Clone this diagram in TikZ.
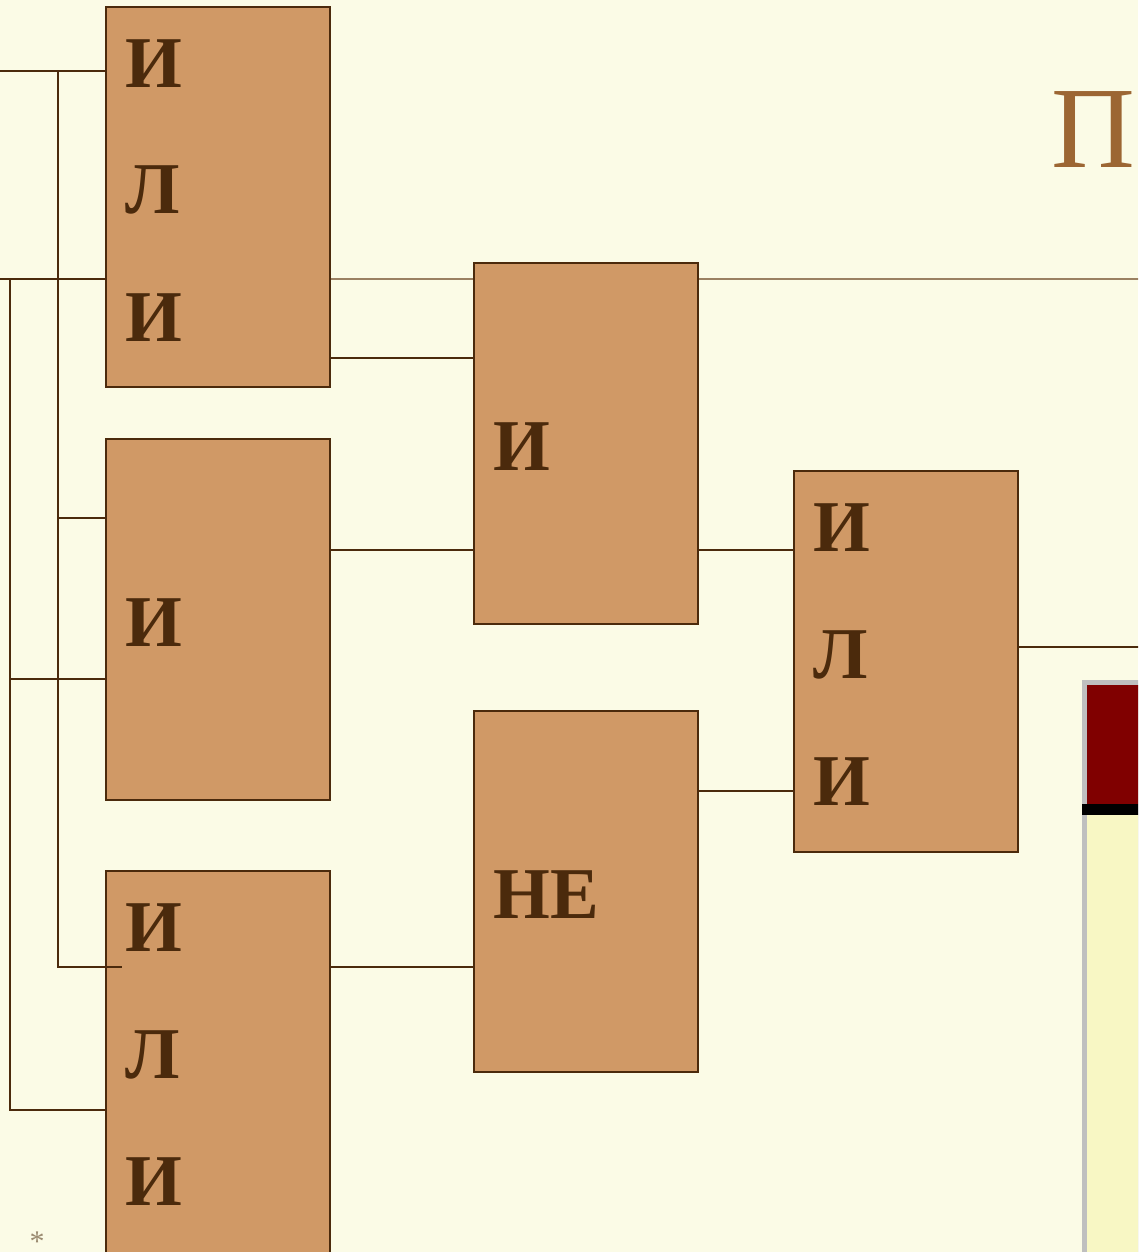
\documentclass[tikz,border=0pt]{standalone}
\usepackage{fontspec}
\setmainfont{Liberation Serif}
\definecolor{bg}{HTML}{FBFBE6}
\definecolor{boxc}{HTML}{D09966}
\definecolor{brd}{HTML}{4B2A0C}
\definecolor{titc}{HTML}{9C6633}
\definecolor{thinc}{HTML}{9A8062}
\definecolor{panred}{HTML}{800000}
\definecolor{panyel}{HTML}{F8F7C4}
\definecolor{astc}{HTML}{9A8A70}
\tikzset{
  gate/.style={draw=brd, fill=boxc, line width=2.5pt, minimum width=224pt, inner sep=0pt, outer sep=0pt, anchor=north west},
  lbl/.style={anchor=base west, inner sep=0pt, text=brd, font=\fontsize{73}{73}\selectfont\bfseries},
  wire/.style={draw=brd, line width=2pt},
}
\begin{document}
\begin{tikzpicture}[x=1pt,y=-1pt]
\useasboundingbox (0,0) rectangle (1138,1252);
\clip (0,0) rectangle (1138,1252);
\fill[bg] (0,0) rectangle (1138,1252);
% title
\node[anchor=base west, inner sep=0pt, text=titc, font=\fontsize{116}{116}\selectfont] (title) at (1051,168) {П};
% right panel
\fill[gray!50] (1082,680) rectangle (1145,1260);
\fill[panred] (1087,685) rectangle (1145,804);
\fill[black] (1082,804) rectangle (1145,815);
\fill[panyel] (1087,815) rectangle (1145,1260);
% coordinates
\coordinate (in1) at (0,71);
\coordinate (in2) at (0,279);
\coordinate (out) at (1140,647);
% thin line (behind boxes)
\draw[thinc, line width=1.5pt] (330,279) -- (1140,279);
% boxes
\node[gate, minimum height=380pt] (B1) at (106,7) {};
\node[gate, minimum height=361pt] (B2) at (106,439) {};
\node[gate, minimum height=400pt] (B3) at (106,871) {};
\node[gate, minimum height=361pt] (B4) at (474,263) {};
\node[gate, minimum height=361pt] (B5) at (474,711) {};
\node[gate, minimum height=381pt] (B6) at (794,471) {};
% labels
\node[lbl] (t11) at (125,88) {И};
\node[lbl] (t12) at (125,214) {Л};
\node[lbl] (t13) at (125,341) {И};
\node[lbl] (t21) at (125,646) {И};
\node[lbl] (t31) at (125,951) {И};
\node[lbl] (t32) at (125,1078) {Л};
\node[lbl] (t33) at (125,1205) {И};
\node[lbl] (t41) at (493,470) {И};
\node[lbl] (t51) at (493,918) {НЕ};
\node[lbl] (t61) at (813,551) {И};
\node[lbl] (t62) at (813,678) {Л};
\node[lbl] (t63) at (813,805) {И};
% input wires
\coordinate (j1) at (58,71);
\coordinate (j2) at (10,279);
\draw[wire] (in1) -- (B1.west |- in1);
\draw[wire] (in2) -- (B1.west |- in2);
\draw[wire] (j1) -- (58,967) -- (122,967);
\draw[wire] (58,518) -- (B2.west |- 0,518);
\draw[wire] (j2) -- (10,1110) -- (B3.west |- 0,1110);
\draw[wire] (10,679) -- (B2.west |- 0,679);
% inter-gate wires
\draw[wire] (B1.east |- 0,358) -- (B4.west |- 0,358);
\draw[wire] (B2.east |- 0,550) -- (B4.west |- 0,550);
\draw[wire] (B3.east |- 0,967) -- (B5.west |- 0,967);
\draw[wire] (B4.east |- 0,550) -- (B6.west |- 0,550);
\draw[wire] (B5.east |- 0,791) -- (B6.west |- 0,791);
\draw[wire] (B6.east |- out) -- (out);
% footer asterisk
\node[anchor=base, inner sep=0pt, text=astc, font=\fontsize{30}{30}\selectfont] (ast) at (37,1251) {*};
\end{tikzpicture}
\end{document}
